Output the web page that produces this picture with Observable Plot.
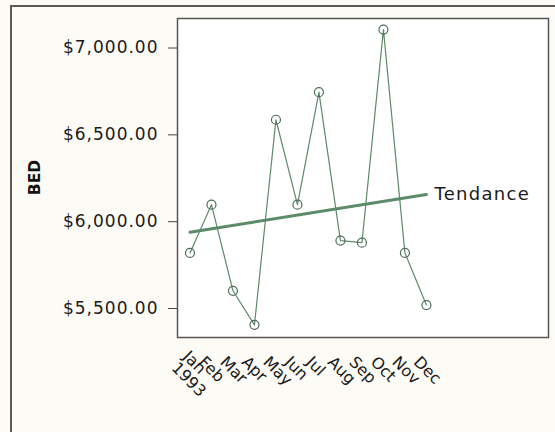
<!DOCTYPE html>
<html>
<head>
<meta charset="utf-8">
<script src="https://cdn.jsdelivr.net/npm/d3@7"></script>
<script src="https://cdn.jsdelivr.net/npm/@observablehq/plot@0.6"></script>
<style>
  html, body { margin: 0; padding: 0; background: #fdfbf5; }
  #wrap { position: relative; width: 555px; height: 432px; overflow: hidden; }
  #border { position: absolute; left: 10px; top: 5px; width: 600px; height: 500px;
            border-left: 2px solid #5a5a5a; border-top: 2px solid #5a5a5a; pointer-events: none; }
  svg { font-family: "DejaVu Sans", Verdana, sans-serif; }
</style>
</head>
<body>
<div id="wrap"><div id="border"></div></div>
<script>
const months = ["Jan","Feb","Mar","Apr","May","Jun","Jul","Aug","Sep","Oct","Nov","Dec"];
const year = "1993";
const values = [5820, 6098, 5602, 5406, 6587, 6098, 6746, 5891, 5879, 7106, 5820, 5520];
const yTicks = [5500, 6000, 6500, 7000];
const trendLabel = "Tendance";
const yLabel = "BED";

const data = months.map((m, i) => ({i, month: m, value: values[i]}));

// least-squares trend, computed from the data
const n = data.length;
const mx = d3.mean(data, d => d.i), my = d3.mean(data, d => d.value);
const slope = d3.sum(data, d => (d.i - mx) * (d.value - my)) / d3.sum(data, d => (d.i - mx) ** 2);
const lastI = n - 1;
const labelData = [{i: lastI, value: my + slope * (lastI - mx), label: trendLabel}];

const fmt = d3.format(",.2f");
const lineColor = "#5d8a69";
const markColor = "#4d6e58";

const chart = Plot.plot({
  width: 555,
  height: 432,
  marginLeft: 177,
  marginRight: 7,
  marginTop: 18,
  marginBottom: 95,
  style: {background: "transparent", fontFamily: "DejaVu Sans, Verdana, sans-serif", overflow: "visible"},
  x: {domain: [-0.58, 16.68], axis: null},
  y: {domain: [5333, 7170], axis: null},
  marks: [
    Plot.frame({fill: "white", stroke: null}),
    Plot.axisY({ticks: yTicks, tickFormat: v => "$" + fmt(v), tickSize: 9, tickPadding: 10,
                fontSize: 17, label: null, stroke: "#444", fill: "#1a1a1a"}),
    Plot.axisX({ticks: d3.range(n), tickFormat: i => months[i] + (i === 0 ? "\n" + year : ""),
                tickSize: 0, tickPadding: 22, dx: -10, tickRotate: 45, fontSize: 16, label: null, fill: "#1a1a1a"}),
    Plot.linearRegressionY(data, {x: "i", y: "value", stroke: lineColor, strokeWidth: 3, ci: 0}),
    Plot.line(data, {x: "i", y: "value", stroke: lineColor, strokeWidth: 1.2}),
    Plot.dot(data, {x: "i", y: "value", r: 4.5, stroke: markColor, fill: "none", strokeWidth: 1.2}),
    Plot.text(labelData, {x: "i", y: "value", text: "label", textAnchor: "start", dx: 8, fontSize: 18,
                          fill: "#1a1a1a"}),
    Plot.frame({stroke: "#555", strokeWidth: 1.5})
  ]
});

const svg = d3.select(chart);
// letter spacing like the original renderer
svg.selectAll('g[aria-label="y-axis tick label"] text').attr("letter-spacing", "1px");
svg.selectAll('g[aria-label="text"] text').attr("letter-spacing", "1.3px");

// Y axis label
svg.append("text")
  .attr("transform", `translate(35,${(18 + 337) / 2}) rotate(-90)`)
  .attr("text-anchor", "middle")
  .attr("dominant-baseline", "middle")
  .attr("font-weight", "bold")
  .attr("font-size", 15.5)
  .attr("fill", "#111")
  .text(yLabel);

document.getElementById("wrap").prepend(chart);
</script>
</body>
</html>
